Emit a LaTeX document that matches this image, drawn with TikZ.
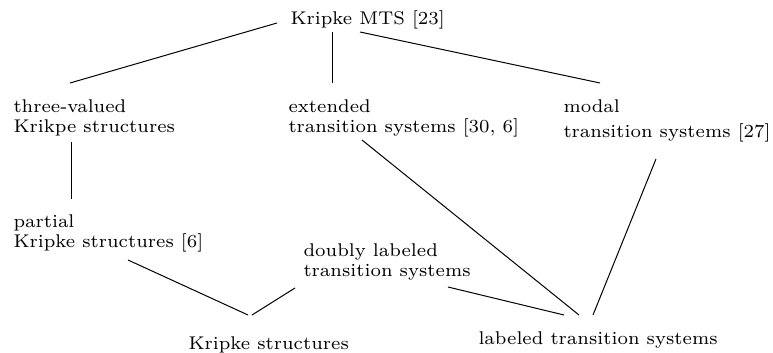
\documentclass[tikz,border=0pt]{standalone}
\begin{document}
\begin{tikzpicture}[x=0.38pt,y=-0.38pt,
  lbl/.style={anchor=base west,inner sep=0pt,align=left,font=\fontsize{7}{7.6}\selectfont},
  conn/.style={line width=0.38pt}]
\useasboundingbox (0,0) rectangle (773,353);
\node[lbl] (kmts) at (290,25) {Kripke MTS [23]};
\node[lbl] (tv) at (13,133) {three-valued\\Krikpe structures};
\node[lbl] (ets) at (288,133) {extended\\transition systems [30, 6]};
\node[lbl] (mts) at (563,138) {modal\\[1.9pt]transition systems [27]};
\node[lbl] (pks) at (13,248) {partial\\Kripke structures [6]};
\node[lbl] (dlts) at (303,277) {doubly labeled\\transition systems};
\node[lbl] (ks) at (188,350) {Kripke structures};
\node[lbl] (lts) at (478,345) {labeled transition systems};
\draw[conn] ([shift={(-13,-2)}]kmts.base west) -- ([shift={(57,-50)}]tv.base west);
\draw[conn] ([shift={(42.5,7)}]kmts.base west) -- ([shift={(44.5,-50)}]ets.base west);
\draw[conn] ([shift={(70,7)}]kmts.base west) -- ([shift={(37,-55)}]mts.base west);
\draw[conn] ([shift={(58.5,9)}]tv.base west) -- ([shift={(58.5,-49)}]pks.base west);
\draw[conn] ([shift={(115,12)}]pks.base west) -- ([shift={(60,-35)}]ks.base west);
\draw[conn] ([shift={(-8,11)}]dlts.base west) -- ([shift={(64,-35)}]ks.base west);
\draw[conn] ([shift={(145,10)}]dlts.base west) -- ([shift={(86,-30)}]lts.base west);
\draw[conn] ([shift={(74,7)}]ets.base west) -- ([shift={(101,-30)}]lts.base west);
\draw[conn] ([shift={(93,21)}]mts.base west) -- ([shift={(115,-30)}]lts.base west);
\end{tikzpicture}
\end{document}
